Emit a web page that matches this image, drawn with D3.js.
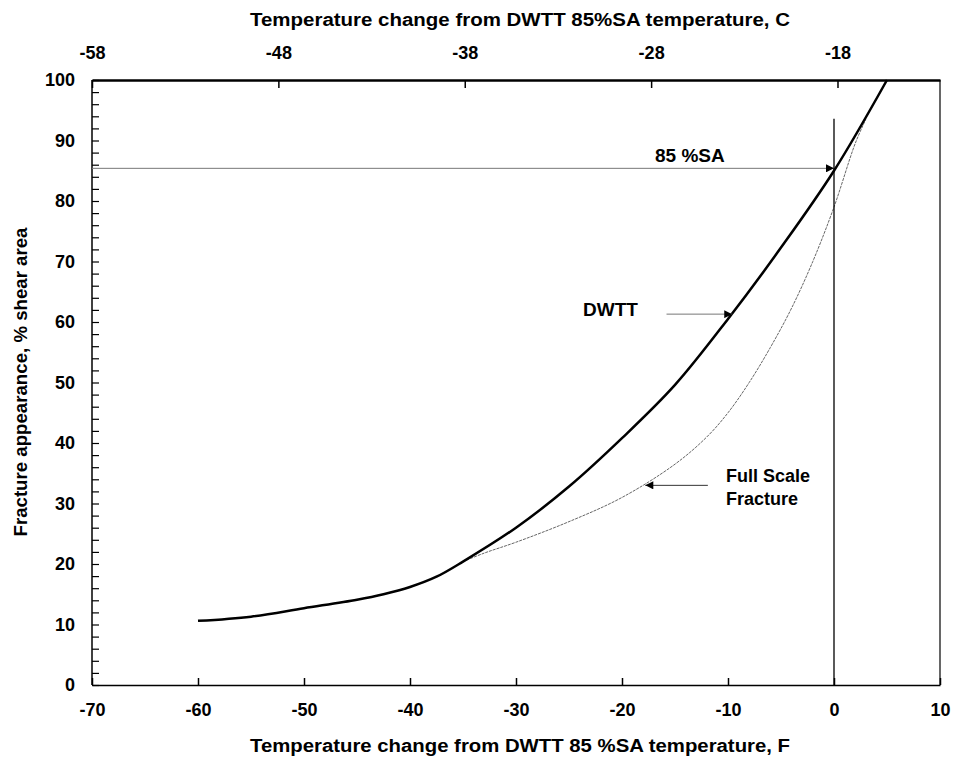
<!DOCTYPE html>
<html>
<head>
<meta charset="utf-8">
<script src="https://cdn.jsdelivr.net/npm/d3@7"></script>
<style>
  body { margin: 0; background: #fff; }
  text { font-family: "Liberation Sans", Arial, sans-serif; font-weight: bold; fill: #000; }
</style>
</head>
<body>
<svg id="chart" width="956" height="758"></svg>
<script>
// DWTT curve (F, % shear area)
var dwttF   = [-60, -55, -50, -45, -42.5, -40, -37.5, -35, -30, -25, -20, -15, -10, -5, 0, 5];
var dwttSA  = [10.6, 11.3, 12.7, 14.1, 15.0, 16.2, 17.9, 20.4, 26.0, 32.8, 40.8, 49.6, 60.5, 72.3, 85.0, 100];
// Full scale fracture curve
var fsfF    = [-35, -33, -30, -25, -20, -15, -12, -10, -8, -6, -4, -2, 0, 2, 3];
var fsfSA   = [20.4, 21.8, 23.6, 27.0, 31.0, 36.5, 41.0, 45.0, 50.0, 55.8, 62.3, 70.0, 79.0, 89.5, 93.5];

var bottomTicks = [-70, -60, -50, -40, -30, -20, -10, 0, 10];
var topTicks = [-58, -48, -38, -28, -18];

var svg = d3.select("#chart");
var pLeft = 92, pRight = 940, pTop = 80, pBottom = 685;
var fmt = function(d) { return String(d); };

var x = d3.scaleLinear().domain([-70, 10]).range([pLeft, pRight]);
// Celsius scale printed on top, -58 C at the left edge
var xc = d3.scaleLinear().domain([-58, -12.5]).range([pLeft, pRight]);
var y = d3.scaleLinear().domain([0, 100]).range([pBottom, pTop]);

// frame
svg.append("line").attr("x1", pLeft).attr("x2", pLeft).attr("y1", pTop).attr("y2", pBottom)
    .attr("stroke", "#000").attr("stroke-width", 1.5);
svg.append("line").attr("x1", pRight).attr("x2", pRight).attr("y1", pTop).attr("y2", pBottom)
    .attr("stroke", "#000").attr("stroke-width", 1.2);

// bottom axis
var gx = svg.append("g").attr("transform", "translate(0," + pBottom + ")")
    .call(d3.axisBottom(x).tickValues(bottomTicks).tickFormat(fmt).tickSize(-7).tickSizeOuter(0).tickPadding(18));
gx.select(".domain").attr("stroke-width", 1.5);
gx.selectAll(".tick line").attr("stroke-width", 1.5);
gx.selectAll("text").attr("font-size", 18).attr("font-family", "Liberation Sans").attr("font-weight", "bold");

// top axis
var gt = svg.append("g").attr("transform", "translate(0," + pTop + ")")
    .call(d3.axisTop(xc).tickValues(topTicks).tickFormat(fmt).tickSize(-8).tickSizeOuter(0).tickPadding(21));
gt.select(".domain").attr("stroke-width", 2.5);
gt.selectAll(".tick line").attr("stroke-width", 1.5);
gt.selectAll("text").attr("font-size", 18).attr("font-family", "Liberation Sans").attr("font-weight", "bold");

// left axis, minor ticks every 2
var gy = svg.append("g").attr("transform", "translate(" + pLeft + ",0)")
    .call(d3.axisLeft(y).tickValues(d3.range(0, 101, 2)).tickSize(-7).tickSizeOuter(0).tickPadding(17)
        .tickFormat(function(d) { return d % 10 === 0 ? d : ""; }));
gy.select(".domain").remove();
gy.selectAll(".tick line").attr("stroke-width", 1.2);
gy.selectAll("text").attr("font-size", 18).attr("font-family", "Liberation Sans").attr("font-weight", "bold");

// axis titles
svg.append("text").attr("x", 520).attr("y", 26).attr("text-anchor", "middle").attr("font-size", 18)
    .attr("textLength", 540).attr("lengthAdjust", "spacingAndGlyphs")
    .text("Temperature change from DWTT 85%SA temperature, C");
svg.append("text").attr("x", 520).attr("y", 752).attr("text-anchor", "middle").attr("font-size", 18)
    .attr("textLength", 540).attr("lengthAdjust", "spacingAndGlyphs")
    .text("Temperature change from DWTT 85 %SA temperature, F");
svg.append("text").attr("transform", "translate(27,382) rotate(-90)").attr("text-anchor", "middle")
    .attr("font-size", 18).attr("textLength", 309).attr("lengthAdjust", "spacingAndGlyphs")
    .text("Fracture appearance, % shear area");

// arrow marker
svg.append("defs").append("marker").attr("id", "arrow")
    .attr("viewBox", "0 0 10 10").attr("refX", 10).attr("refY", 5)
    .attr("markerWidth", 11).attr("markerHeight", 8).attr("markerUnits", "userSpaceOnUse")
    .attr("orient", "auto")
    .append("path").attr("d", "M0,0L10,5L0,10Z").attr("fill", "#000");

var line = d3.line().x(function(d) { return x(d[0]); }).y(function(d) { return y(d[1]); })
    .curve(d3.curveCatmullRom.alpha(0.5));

// full scale fracture (thin)
svg.append("path").datum(d3.zip(fsfF, fsfSA)).attr("d", line)
    .attr("fill", "none").attr("stroke", "#666").attr("stroke-width", 1)
    .attr("stroke-dasharray", "3,1");

// DWTT (thick)
svg.append("path").datum(d3.zip(dwttF, dwttSA)).attr("d", line)
    .attr("fill", "none").attr("stroke", "#000").attr("stroke-width", 2.5);

// 85 %SA reference lines
svg.append("line").attr("x1", x(-70)).attr("x2", x(0)).attr("y1", y(85.4)).attr("y2", y(85.4))
    .attr("stroke", "#777").attr("stroke-width", 1).attr("marker-end", "url(#arrow)");
svg.append("line").attr("x1", x(0)).attr("x2", x(0)).attr("y1", y(93.6)).attr("y2", pBottom)
    .attr("stroke", "#000").attr("stroke-width", 1.3);
svg.append("text").attr("x", 655).attr("y", 162).attr("font-size", 19).text("85 %SA");

// DWTT annotation
svg.append("text").attr("x", 583).attr("y", 316).attr("font-size", 19).text("DWTT");
svg.append("line").attr("x1", x(-15.8)).attr("x2", x(-9.6)).attr("y1", y(61.3)).attr("y2", y(61.3))
    .attr("stroke", "#777").attr("stroke-width", 1).attr("marker-end", "url(#arrow)");

// Full scale fracture annotation
svg.append("text").attr("x", 726).attr("y", 482).attr("font-size", 18).text("Full Scale");
svg.append("text").attr("x", 726).attr("y", 505).attr("font-size", 18).text("Fracture");
svg.append("line").attr("x1", x(-11.9)).attr("x2", x(-17.8)).attr("y1", y(33)).attr("y2", y(33))
    .attr("stroke", "#333").attr("stroke-width", 1).attr("marker-end", "url(#arrow)");
</script>
</body>
</html>
